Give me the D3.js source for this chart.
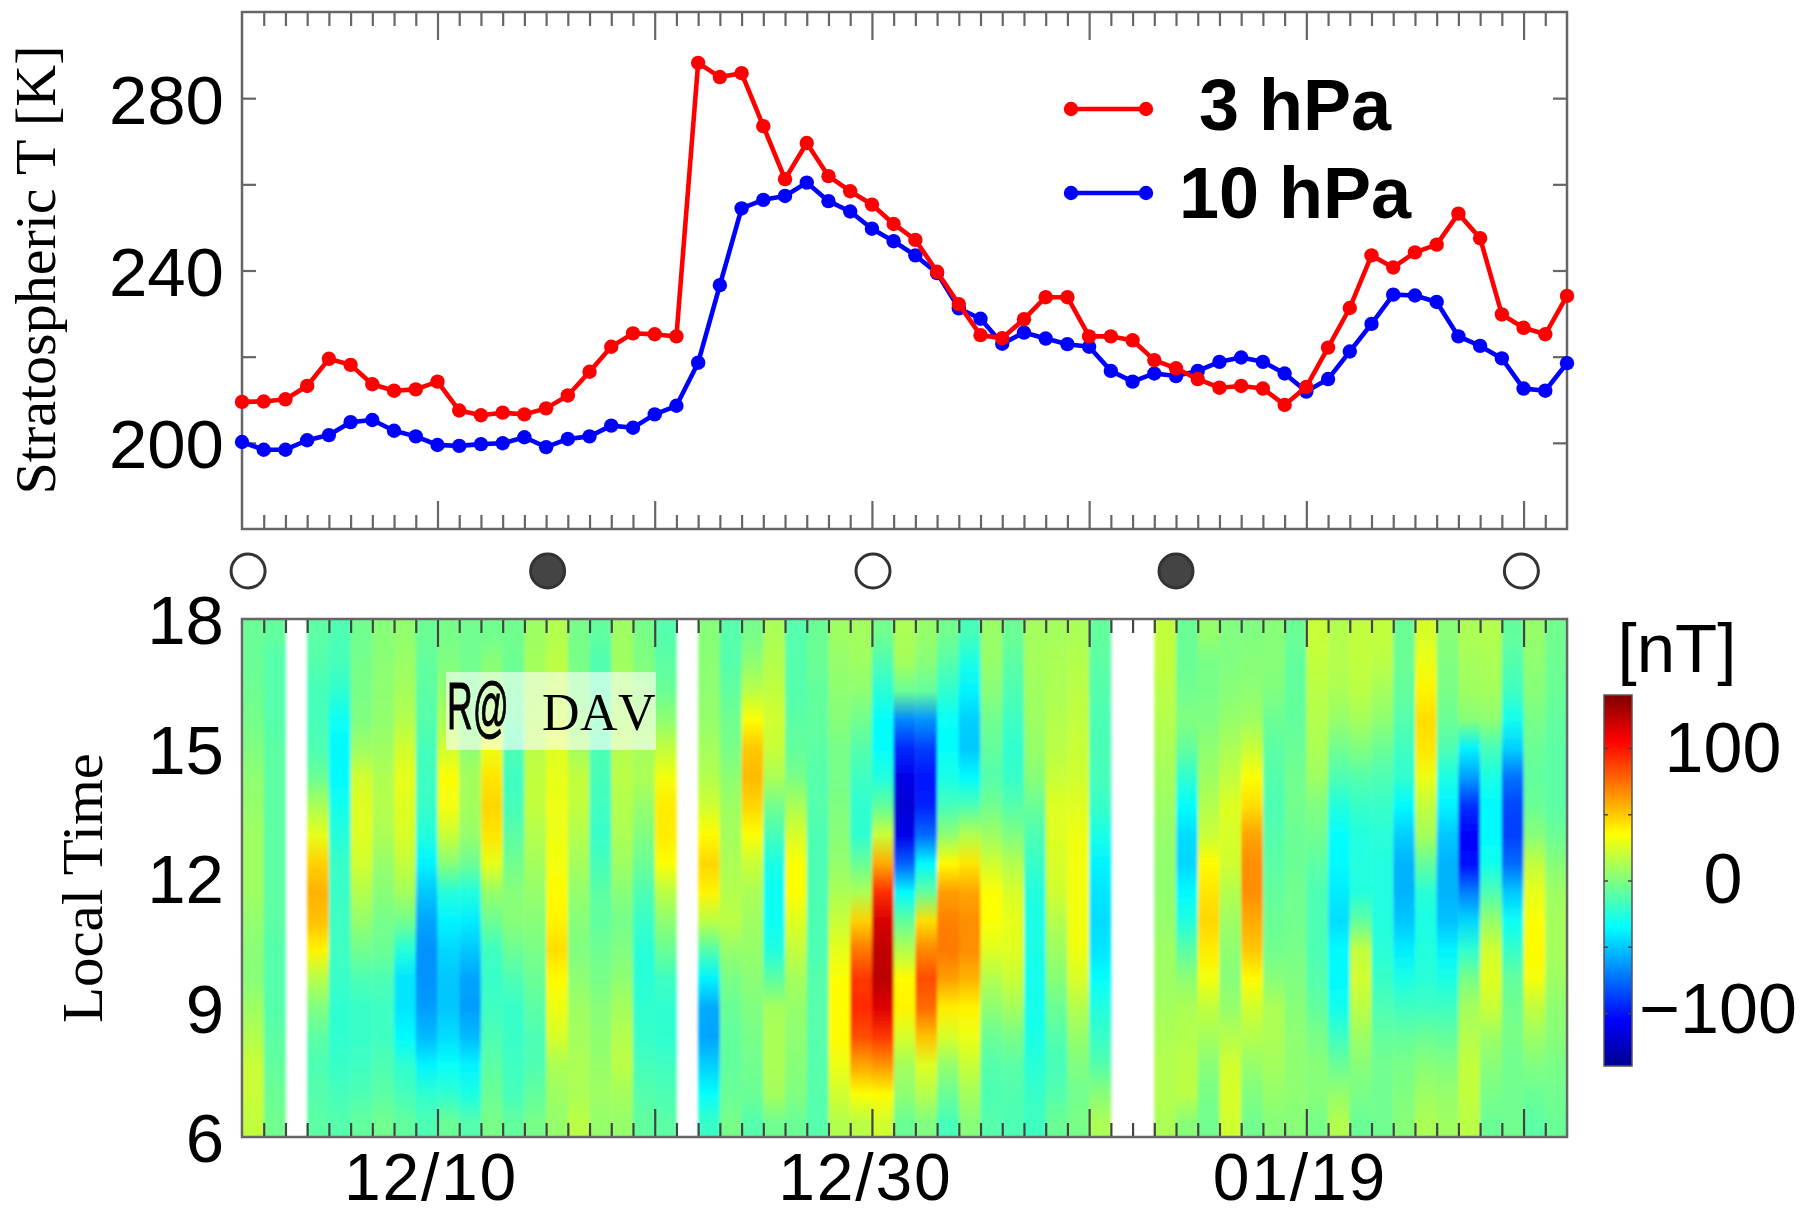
<!DOCTYPE html>
<html>
<head>
<meta charset="utf-8">
<script src="https://cdn.jsdelivr.net/npm/d3@7"></script>
<style>
  html, body { margin: 0; padding: 0; background: #fff; }
  svg { display: block; }
  text { fill: #000; }
</style>
</head>
<body>
<svg id="chart" width="1815" height="1215"></svg>
<script>
// daily stratospheric temperature, 12/01 is day 0
var temp3hPa = [209.5,209.6,210.1,213.2,219.5,218.1,213.6,212.1,212.4,214.2,207.5,206.4,207.0,206.6,208.0,211.0,216.5,222.3,225.4,225.2,224.7,
  288.2,284.9,285.8,273.5,261.2,269.6,261.9,258.4,255.3,250.8,247.1,239.7,232.2,225.0,224.3,228.7,233.8,233.8,224.7,224.7,223.8,219.2,217.3,
  214.8,212.8,213.2,212.6,208.8,213.0,222.1,231.3,243.5,240.7,244.2,246.0,253.2,247.5,229.8,226.7,225.2,234.1]
var temp10hPa = [200.2,198.4,198.4,200.6,201.8,204.8,205.3,202.8,201.5,199.5,199.3,199.7,199.9,201.3,199.0,200.9,201.5,204.0,203.5,206.6,208.6,
  218.6,236.6,254.4,256.4,257.3,260.4,256.1,253.7,249.7,246.8,243.5,239.4,231.2,228.8,223.0,225.6,224.2,222.9,222.3,216.7,214.2,216.1,215.5,
  216.7,218.8,219.8,218.8,216.1,211.9,214.8,221.2,227.6,234.4,234.2,232.7,224.7,222.5,219.6,212.6,212.1,218.5]

// moon phases: day, filled = new moon
var moonDays = [0.28, 14.07, 29.05, 43, 58.9]
var moonFilled = [false, true, false, true, false]

var tempTicks = [200, 220, 240, 260, 280]
var tempLabels = [200, 240, 280]
var dayMajor = [9, 19, 29, 39, 49, 59]
var dayLabels = {9: "12/10", 29: "12/30", 49: "01/19"}
var ltTicks = [6, 9, 12, 15, 18]
var barTicks = [-100, -50, 0, 50, 100]

// local time of each row in the grid below, top to bottom
var ltRows = [17.67,17,16.33,15.67,15,14.33,13.67,13,12.33,11.67,11,10.33,9.67,9,8.33,7.67,7,6.33]

// field in nT per day column (null = no data), rows as in ltRows
var fieldByDay = [
  [-6,-6,-5,-3,0,4,6,8,8,8,5,3,2,8,14,20,20,18],
  [-8,-12,-12,-12,-10,-10,-10,-10,-10,-10,-10,-12,-12,-12,-10,-8,-6,-4],
  null,
  [-10,-12,-16,-16,-14,-6,12,28,48,56,52,38,15,0,-10,-14,-12,-10],
  [-14,-16,-22,-32,-36,-36,-30,-25,-20,-20,-18,-18,-20,-22,-22,-20,-16,-12],
  [-4,-3,-2,0,8,22,26,26,22,14,6,-4,-14,-20,-20,-18,-14,-8],
  [2,3,4,5,8,13,14,12,6,2,-3,-6,-14,-18,-18,-14,-10,-4],
  [5,7,10,14,22,28,26,24,18,10,-4,-25,-42,-42,-36,-22,-16,-8],
  [-6,-8,-10,-12,-16,-18,-20,-26,-38,-50,-60,-65,-65,-62,-54,-38,-22,-14],
  [-2,0,5,12,22,34,32,20,2,-25,-38,-46,-50,-50,-44,-33,-22,-6],
  [-4,-4,-2,0,4,10,10,6,-6,-26,-40,-50,-60,-62,-54,-38,-28,-12],
  [-4,2,6,14,30,42,46,42,28,6,-6,-18,-20,-18,-14,-10,-6,-2],
  [-4,-5,-6,-10,-14,-18,-16,-10,-4,2,2,-6,-14,-20,-20,-18,-16,-8],
  [8,10,12,14,16,18,18,14,10,6,2,-2,-6,-10,-14,-14,-8,-2],
  [14,16,18,22,26,28,30,30,32,36,38,44,36,30,24,12,8,6],
  [-2,-2,0,4,10,18,18,14,10,6,2,0,4,8,10,12,12,16],
  [-9,-13,-12,-10,-14,-16,-18,-20,-16,-10,-8,-5,-2,2,4,6,8,6],
  [8,9,10,12,14,16,14,12,8,2,-3,0,4,10,14,16,10,6],
  [-2,0,4,8,10,12,6,0,-6,-14,-20,-24,-24,-22,-20,-16,-12,-8],
  [-12,-10,-6,4,18,32,40,40,34,16,4,-6,-18,-22,-22,-18,-14,-10],
  null,
  [2,3,4,6,10,14,22,36,46,38,16,-12,-38,-58,-60,-48,-34,-20],
  [-12,-12,-8,-4,-2,4,8,10,12,14,16,6,-2,-6,-8,-8,-6,-2],
  [-3,4,16,34,50,54,46,34,20,12,8,6,3,0,-2,-4,-6,-12],
  [12,14,18,22,20,12,-4,-16,-28,-32,-32,-26,-10,10,12,12,10,-4],
  [-12,-12,-12,-10,-8,-2,12,24,34,34,26,18,10,6,4,2,0,-6],
  [-6,-6,-8,-8,-10,-12,-12,-14,-14,-14,-14,-14,-12,-12,-12,-12,-12,-12],
  [8,6,4,2,-2,-3,0,2,6,12,20,28,34,36,36,30,22,14],
  [10,8,4,-4,-12,-18,-22,-22,-6,12,48,72,90,94,84,60,34,16],
  [-4,-14,-24,-34,-34,-26,-8,20,58,92,116,122,124,114,90,64,36,22],
  [12,10,-6,-68,-94,-112,-118,-112,-78,-36,-8,14,36,38,24,10,4,-6],
  [6,2,-8,-64,-88,-100,-96,-76,-36,-8,44,68,84,76,52,26,14,0],
  [-4,-12,-22,-33,-34,-28,-16,4,36,62,70,72,62,40,24,6,-6,-16],
  [-16,-28,-38,-48,-50,-36,-14,14,42,60,66,66,56,38,30,20,10,2],
  [7,6,2,-4,-8,-12,-4,8,22,34,34,26,14,4,-6,-12,-14,-12],
  [-6,-10,-14,-18,-22,-20,-12,0,14,24,28,26,20,10,-2,-10,-13,-14],
  [10,10,9,8,6,2,-6,-14,-20,-26,-28,-28,-30,-30,-28,-24,-20,-18],
  [10,12,12,14,16,20,26,26,24,22,14,8,2,-6,-12,-16,-12,-6],
  [12,14,16,18,20,22,26,30,32,32,32,30,24,14,6,0,-4,-2],
  [-8,-10,-12,-14,-15,-16,-20,-28,-38,-42,-44,-42,-34,-26,-20,-12,2,12],
  null,
  null,
  [18,18,16,14,12,10,8,6,5,5,6,8,8,10,12,14,14,12],
  [-6,-6,-4,0,-8,-22,-34,-44,-46,-36,-26,-10,4,12,14,16,16,2],
  [6,-2,-2,0,4,8,14,20,36,42,46,40,32,18,10,2,-2,-4],
  [0,0,2,6,12,18,26,24,22,14,8,4,2,6,14,22,24,22],
  [0,2,4,8,20,34,44,60,66,66,58,50,36,22,14,6,0,-4],
  [2,2,0,-6,-10,-12,-14,-12,-10,-8,-6,-4,2,12,12,10,6,2],
  [-6,-8,-8,-8,-6,-4,-4,-6,-6,-4,-4,-2,0,2,4,4,4,2],
  [20,18,16,14,12,8,0,-4,-10,-14,-14,-14,-12,-8,-2,2,2,-2],
  [14,14,12,6,-4,-14,-26,-34,-36,-40,-44,-36,-36,-30,-18,-6,6,14],
  [18,18,16,10,0,-12,-20,-26,-26,-26,-8,18,22,16,8,2,-2,-6],
  [18,16,10,4,-6,-14,-20,-24,-26,-26,-26,-24,-20,-14,-8,-4,-4,-4],
  [-6,-6,-8,-12,-18,-22,-36,-48,-56,-56,-50,-40,-28,-18,-8,-2,0,2],
  [24,30,38,44,42,30,18,10,-8,-24,-28,-26,-24,-18,-6,2,8,12],
  [2,0,-2,-6,-14,-28,-38,-50,-56,-56,-52,-38,-28,-18,-8,0,6,8],
  [12,10,8,2,-38,-62,-92,-106,-102,-70,-46,-22,-2,10,14,18,18,16],
  [14,12,10,4,-16,-28,-36,-36,-30,-14,6,22,26,20,8,2,-2,-6],
  [-8,-12,-18,-30,-48,-74,-86,-88,-76,-50,-32,-20,-8,-4,-2,-4,-4,-4],
  [6,4,2,-2,-6,-8,-6,2,18,28,34,36,32,18,8,0,-6,-10],
  [-4,-5,-6,-8,-10,-10,-10,-6,2,8,10,10,8,4,2,-2,-4,-6]
]

var left = 242, right = 1567
var topT = 12, bottomT = 529
var topF = 619, bottomF = 1137
var axisGrey = "#666", axisDark = "#444"
var sans = "'Liberation Sans', Arial, sans-serif"
var serif = "'Liberation Serif', 'Times New Roman', serif"

var svg = d3.select("#chart")
var defs = svg.append("defs")

var xScale = d3.scaleLinear().domain([0, 61]).range([left, right])
var yTemp = d3.scaleLinear().domain([180, 300]).range([bottomT, topT])
var yLT = d3.scaleLinear().domain([6, 18]).range([bottomF, topF])
var yBar = d3.scaleLinear().domain([-140, 140]).range([1066, 695])

// jet colormap over the color bar range
var jet = d3.scaleLinear()
  .domain([-140, -105, -35, 35, 105, 140])
  .range(["rgb(0,0,143)", "rgb(0,0,255)", "rgb(0,255,255)", "rgb(255,255,0)", "rgb(255,0,0)", "rgb(128,0,0)"])
  .clamp(true)

var allDays = d3.range(0, 62)
var minorDays = allDays.filter(d => dayMajor.indexOf(d) < 0 && d > 0 && d < 61)

// day ticks pointing inward from the top and bottom edge of a panel
function dayTicks(y0, y1, color) {
  [[y0, d3.axisTop], [y1, d3.axisBottom]].forEach(function(p) {
    var minor = svg.append("g").attr("transform", `translate(0,${p[0]})`)
      .call(p[1](xScale).tickValues(minorDays).tickFormat("").tickSize(-14))
    var major = svg.append("g").attr("transform", `translate(0,${p[0]})`)
      .call(p[1](xScale).tickValues(dayMajor).tickFormat("").tickSize(-28))
    minor.selectAll(".domain").remove()
    major.selectAll(".domain").remove()
    minor.selectAll("line").attr("stroke", color).attr("stroke-width", 2.2)
    major.selectAll("line").attr("stroke", color).attr("stroke-width", 2.2)
  })
}

// ---- temperature panel ----
svg.append("g").attr("transform", `translate(${left},0)`)
  .call(d3.axisLeft(yTemp).tickValues(tempTicks).tickSize(-14).tickFormat(d => tempLabels.indexOf(d) >= 0 ? d : ""))
  .call(g => g.selectAll(".domain").remove())
  .call(g => g.selectAll("line").attr("stroke", axisGrey).attr("stroke-width", 2.2))
  .call(g => g.selectAll("text").attr("x", -18).attr("dy", "0.36em")
    .style("font-family", sans).style("font-size", "69px").attr("fill", "#000"))

svg.append("g").attr("transform", `translate(${right},0)`)
  .call(d3.axisRight(yTemp).tickValues(tempTicks).tickSize(-14).tickFormat(""))
  .call(g => g.selectAll(".domain").remove())
  .call(g => g.selectAll("line").attr("stroke", axisGrey).attr("stroke-width", 2.2))

dayTicks(topT, bottomT, axisGrey)

svg.append("rect")
  .attr("x", left).attr("y", topT)
  .attr("width", right - left).attr("height", bottomT - topT)
  .attr("fill", "none").attr("stroke", axisGrey).attr("stroke-width", 2.5)

var tempSeries = [
  {name: "3 hPa", values: temp3hPa, color: "#ff0000"},
  {name: "10 hPa", values: temp10hPa, color: "#0000ff"}
]
var line = d3.line().x((d, i) => xScale(i)).y(d => yTemp(d))

// blue goes first so red sits on top
tempSeries.slice().reverse().forEach(function(s) {
  svg.append("path").attr("d", line(s.values))
    .attr("fill", "none").attr("stroke", s.color).attr("stroke-width", 4.6).attr("stroke-linejoin", "round")
  svg.append("g").selectAll("circle").data(s.values).enter().append("circle")
    .attr("cx", (d, i) => xScale(i))
    .attr("cy", d => yTemp(d))
    .attr("r", 7.2)
    .attr("fill", s.color)
})

// legend
var legendY = [109, 193], legendBase = [130, 218]
tempSeries.forEach(function(s, i) {
  svg.append("line").attr("x1", 1071).attr("x2", 1146).attr("y1", legendY[i]).attr("y2", legendY[i])
    .attr("stroke", s.color).attr("stroke-width", 4.6)
  svg.selectAll(null).data([1071, 1146]).enter().append("circle")
    .attr("cx", d => d).attr("cy", legendY[i]).attr("r", 7.2).attr("fill", s.color)
  svg.append("text").text(s.name)
    .attr("x", 1295).attr("y", legendBase[i]).attr("text-anchor", "middle")
    .style("font-family", sans).style("font-size", "72px").style("font-weight", "bold")
})

svg.append("text").text("Stratospheric T [K]")
  .attr("transform", "translate(55,270) rotate(-90)")
  .attr("text-anchor", "middle").attr("textLength", 449).attr("lengthAdjust", "spacingAndGlyphs")
  .style("font-family", serif).style("font-size", "57px")

// ---- moon phases ----
svg.append("g").selectAll("circle").data(moonDays).enter().append("circle")
  .attr("cx", d => xScale(d))
  .attr("cy", 571)
  .attr("r", 17)
  .attr("fill", (d, i) => moonFilled[i] ? "#444" : "#fff")
  .attr("stroke", "#333").attr("stroke-width", 3)

// ---- field panel ----
// one gradient per day, with a stop at every local time row
fieldByDay.forEach(function(col, i) {
  if (!col) return
  var grad = defs.append("linearGradient").attr("id", "day" + i)
    .attr("x1", 0).attr("x2", 0).attr("y1", 0).attr("y2", 1)
  grad.selectAll("stop").data(col).enter().append("stop")
    .attr("offset", (d, r) => (yLT(ltRows[r]) - topF) / (bottomF - topF))
    .attr("stop-color", d => jet(d))
})

// the reference image is a little soft across the day columns
defs.append("filter").attr("id", "soft")
  .attr("filterUnits", "userSpaceOnUse")
  .attr("x", left - 10).attr("y", topF - 10).attr("width", right - left + 20).attr("height", bottomF - topF + 20)
  .append("feGaussianBlur").attr("stdDeviation", "1.4 0")

svg.append("g").attr("filter", "url(#soft)")
  .selectAll("rect").data(fieldByDay).enter()
  .filter(d => d !== null)
  .append("rect")
  .attr("x", d => xScale(fieldByDay.indexOf(d)))
  .attr("y", topF)
  .attr("width", d => xScale(1) - xScale(0) + 0.3)
  .attr("height", bottomF - topF)
  .attr("fill", d => `url(#day${fieldByDay.indexOf(d)})`)

dayTicks(topF, bottomF, axisDark)

svg.append("rect")
  .attr("x", left).attr("y", topF)
  .attr("width", right - left).attr("height", bottomF - topF)
  .attr("fill", "none").attr("stroke", axisGrey).attr("stroke-width", 2.5)

svg.append("g").attr("transform", `translate(${left},0)`)
  .call(d3.axisLeft(yLT).tickValues(ltTicks).tickSize(0))
  .call(g => g.selectAll(".domain").remove())
  .call(g => g.selectAll("text").attr("x", -18).attr("dy", "0.36em")
    .style("font-family", sans).style("font-size", "69px").attr("fill", "#000"))

// the labels sit right at the page edge, so they are a bit smaller and spaced out
svg.append("g").attr("transform", `translate(0,${bottomF})`)
  .call(d3.axisBottom(xScale).tickValues([9, 29, 49]).tickSize(0).tickFormat(d => dayLabels[d]))
  .call(g => g.selectAll(".domain").remove())
  .call(g => g.selectAll("text").attr("dx", -7).attr("y", 63).attr("dy", 0)
    .style("font-family", sans).style("font-size", "66px").style("letter-spacing", "1.8px").attr("fill", "#000"))

svg.append("text").text("Local Time")
  .attr("transform", "translate(102,888) rotate(-90)")
  .attr("text-anchor", "middle").attr("textLength", 270).attr("lengthAdjust", "spacingAndGlyphs")
  .style("font-family", serif).style("font-size", "57px")

// station label pasted over the panel
svg.append("rect").attr("x", 446).attr("y", 672).attr("width", 210).attr("height", 78)
  .attr("fill", "#fff").attr("opacity", 0.6)
svg.append("text").text("R@")
  .attr("transform", "translate(447,729) scale(0.54,1)")
  .attr("stroke", "#000").attr("stroke-width", 1)
  .style("font-family", sans).style("font-size", "66px")
svg.append("text").text("DAV")
  .attr("x", 542).attr("y", 730)
  .style("font-family", serif).style("font-size", "52px")
  .style("font-kerning", "none").style("letter-spacing", "0.5px")

// ---- color bar ----
var barSteps = d3.range(-140, 141, 5)
var barGrad = defs.append("linearGradient").attr("id", "barGrad")
  .attr("x1", 0).attr("x2", 0).attr("y1", 1).attr("y2", 0)
barGrad.selectAll("stop").data(barSteps).enter().append("stop")
  .attr("offset", d => (d + 140) / 280)
  .attr("stop-color", d => jet(d))

svg.append("rect").attr("x", 1604).attr("y", 695).attr("width", 28).attr("height", 371)
  .attr("fill", "url(#barGrad)").attr("stroke", "#555").attr("stroke-width", 1.5)

;[[1604, d3.axisRight], [1632, d3.axisLeft]].forEach(function(p) {
  svg.append("g").attr("transform", `translate(${p[0]},0)`)
    .call(p[1](yBar).tickValues(barTicks).tickSize(4).tickFormat(""))
    .call(g => g.selectAll(".domain").remove())
    .call(g => g.selectAll("line").attr("stroke", "#444").attr("stroke-width", 1.5))
})

svg.append("g").selectAll("text").data([100, 0, -100]).enter().append("text")
  .text(d => d < 0 ? "\u2212" + Math.abs(d) : d)
  .attr("x", d => d < 0 ? 1718 : 1723)
  .attr("y", d => yBar(d) + (d < 0 ? 20 : (d === 0 ? 22 : 24)))
  .attr("text-anchor", "middle")
  .style("font-family", sans).style("font-size", "70px")

svg.append("text").text("[nT]")
  .attr("x", 1677).attr("y", 672).attr("text-anchor", "middle")
  .style("font-family", sans).style("font-size", "69px")
</script>
</body>
</html>
